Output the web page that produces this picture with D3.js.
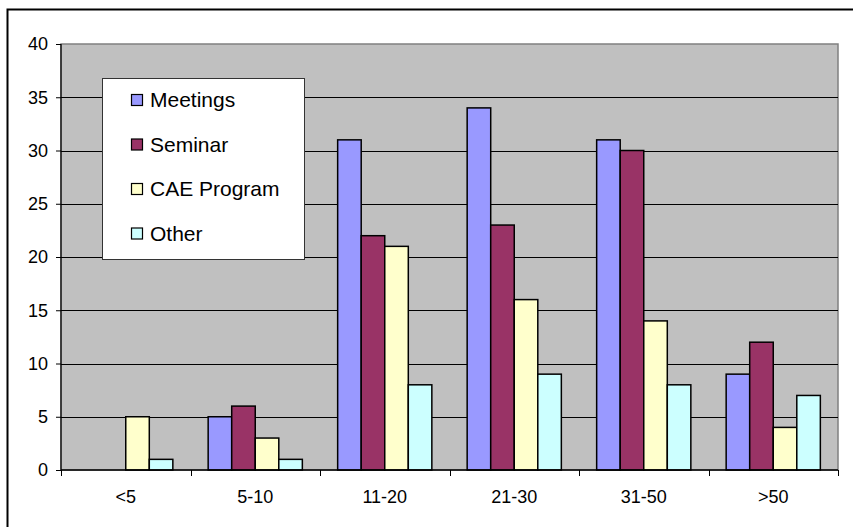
<!DOCTYPE html>
<html>
<head>
<meta charset="utf-8">
<script src="https://cdn.jsdelivr.net/npm/d3@7"></script>
<style>
  html, body { margin: 0; padding: 0; background: #fff; }
  svg { display: block; font-family: "Liberation Sans", Arial, sans-serif; }
</style>
</head>
<body>
<svg id="chart" width="853" height="527"></svg>
<script>
// Attendance by group size, per activity type
const categories = ["<5", "5-10", "11-20", "21-30", "31-50", ">50"];
const seriesNames = ["Meetings", "Seminar", "CAE Program", "Other"];
const meetings   = [0, 5, 31, 34, 31, 9];
const seminar    = [0, 6, 22, 23, 30, 12];
const caeProgram = [5, 3, 21, 16, 14, 4];
const other      = [1, 1, 8, 9, 8, 7];
const yTicks = [0, 5, 10, 15, 20, 25, 30, 35, 40];
const colors = ["#9999FF", "#993366", "#FFFFCC", "#CCFFFF"];

const seriesValues = [meetings, seminar, caeProgram, other];
const rows = categories.map((c, i) => ({
  cat: c,
  values: seriesNames.map((s, k) => ({ key: s, value: seriesValues[k][i], k }))
}));

const svg = d3.select("#chart");
const plot = { left: 61, top: 44, right: 838, bottom: 470 };
const fontFamily = "'Liberation Sans', Arial, sans-serif";

// outer chart frame
svg.append("rect")
  .attr("x", 7.5).attr("y", 9.5)
  .attr("width", 900).attr("height", 600)
  .attr("fill", "#fff").attr("stroke", "#000").attr("stroke-width", 2);

const x = d3.scaleBand().domain(categories).range([plot.left, plot.right]).padding(0);
const y = d3.scaleLinear().domain([0, 40]).range([plot.bottom, plot.top]);

// bars take 4 of 5.5 bar-widths per category (gap width 150%)
const barW = x.bandwidth() / 5.5;
const x1 = d3.scaleBand().domain(seriesNames)
  .range([0.75 * barW, 4.75 * barW]).padding(0);

// plot background
svg.append("rect")
  .attr("x", plot.left).attr("y", plot.top)
  .attr("width", plot.right - plot.left).attr("height", plot.bottom - plot.top)
  .attr("fill", "#C0C0C0").attr("stroke", "#808080").attr("stroke-width", 1.5);

// horizontal gridlines
svg.append("g").selectAll("line")
  .data(yTicks.filter(t => t > 0 && t < 40))
  .join("line")
  .attr("x1", plot.left).attr("x2", plot.right)
  .attr("y1", d => Math.round(y(d)) + 0.5).attr("y2", d => Math.round(y(d)) + 0.5)
  .attr("stroke", "#000").attr("stroke-width", 1);

// bars
svg.append("g").selectAll("g")
  .data(rows)
  .join("g")
  .attr("transform", d => `translate(${x(d.cat)},0)`)
  .selectAll("rect")
  .data(d => d.values.filter(v => v.value > 0))
  .join("rect")
  .attr("x", d => x1(d.key))
  .attr("y", d => y(d.value))
  .attr("width", x1.bandwidth())
  .attr("height", d => y(0) - y(d.value))
  .attr("fill", d => colors[d.k])
  .attr("stroke", "#000").attr("stroke-width", 1.5);

// y axis
const yAxis = svg.append("g")
  .attr("transform", `translate(${plot.left},0)`)
  .call(d3.axisLeft(y).tickValues(yTicks).tickSize(5).tickPadding(8).tickFormat(d3.format("d")))
  .attr("font-size", 18).attr("font-family", fontFamily);
yAxis.select(".domain").attr("stroke", "#000").attr("stroke-width", 1.2).attr("d", `M0,${plot.top}V${plot.bottom}`);
yAxis.selectAll(".tick line").attr("stroke", "#000");
yAxis.selectAll("text").attr("fill", "#000");

// x axis: ticks sit on category boundaries
const xAxis = svg.append("g")
  .attr("transform", `translate(0,${plot.bottom})`);
xAxis.append("line")
  .attr("x1", plot.left).attr("x2", plot.right)
  .attr("stroke", "#000").attr("stroke-width", 1.5);
const bounds = categories.map(c => x(c)).concat([plot.right]);
xAxis.selectAll("line.tk").data(bounds).join("line").attr("class", "tk")
  .attr("x1", d => Math.round(d) + 0.5).attr("x2", d => Math.round(d) + 0.5)
  .attr("y1", 0).attr("y2", 6).attr("stroke", "#000");
xAxis.selectAll("text").data(categories).join("text")
  .attr("x", d => x(d) + x.bandwidth() / 2)
  .attr("y", 33)
  .attr("text-anchor", "middle")
  .attr("font-size", 18)
  .attr("font-family", fontFamily)
  .text(d => d);

// legend
const legend = svg.append("g");
legend.append("rect")
  .attr("x", 102.5).attr("y", 78.5).attr("width", 202).attr("height", 181)
  .attr("fill", "#fff").attr("stroke", "#333").attr("stroke-width", 1);
const item = legend.selectAll("g.item").data(seriesNames).join("g")
  .attr("class", "item")
  .attr("transform", (d, i) => `translate(131,${100 + i * 44.5})`);
item.append("rect")
  .attr("x", 0.5).attr("y", -5.5).attr("width", 11).attr("height", 11)
  .attr("fill", (d, i) => colors[i]).attr("stroke", "#000").attr("stroke-width", 1.2);
item.append("text")
  .attr("x", 19).attr("y", 7)
  .attr("font-size", 21)
  .attr("font-family", fontFamily)
  .text(d => d);
</script>
</body>
</html>
